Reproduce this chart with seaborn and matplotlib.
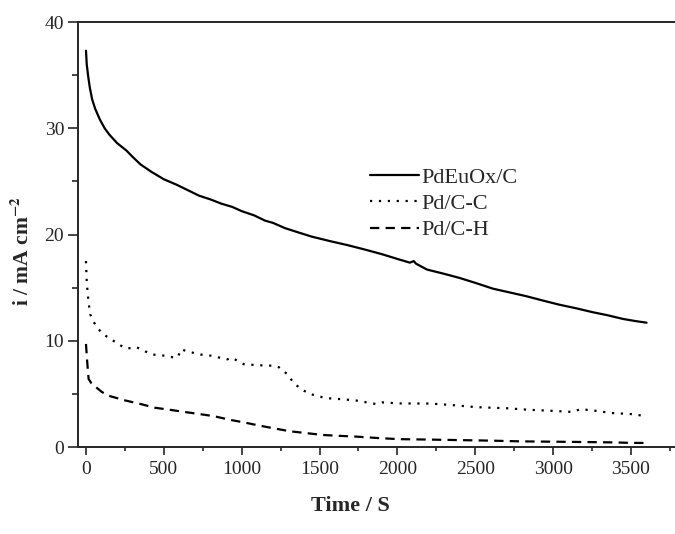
import numpy as np
import pandas as pd
import matplotlib
matplotlib.use("Agg")
import matplotlib.pyplot as plt
import seaborn as sns

# ---- data ----
t_pdeu = [0, 5, 15, 25, 40, 60, 90, 120, 150, 200, 260, 300, 350, 420, 500, 580, 650, 727, 800,
          870, 939, 1000, 1080, 1151, 1200, 1278, 1363, 1450, 1575, 1680, 1787, 1900, 2000, 2080,
          2105, 2120, 2190, 2300, 2402, 2500, 2614, 2720, 2826, 2930, 3038, 3150, 3250, 3350,
          3450, 3530, 3600]
i_pdeu = [37.3, 36.0, 34.8, 33.8, 32.7, 31.8, 30.8, 30.0, 29.4, 28.6, 27.9, 27.3, 26.6, 25.9,
          25.2, 24.7, 24.2, 23.65, 23.3, 22.9, 22.6, 22.2, 21.8, 21.3, 21.1, 20.6, 20.2, 19.8,
          19.35, 19.0, 18.6, 18.15, 17.7, 17.35, 17.5, 17.25, 16.7, 16.3, 15.9, 15.45, 14.9,
          14.55, 14.2, 13.8, 13.4, 13.05, 12.7, 12.4, 12.05, 11.85, 11.7]

t_pdcc = [0, 5, 15, 27, 48, 80, 112, 176, 250, 282, 324, 380, 430, 500, 557, 590, 611, 650, 738,
          800, 907, 937, 1013, 1100, 1204, 1240, 1289, 1342, 1400, 1437, 1500, 1543, 1640, 1734,
          1861, 1900, 2020, 2211, 2350, 2508, 2700, 2847, 3000, 3123, 3176, 3250, 3377, 3500, 3600]
i_pdcc = [17.5, 15.5, 13.8, 12.5, 11.8, 11.1, 10.6, 10.0, 9.3, 9.3, 9.4, 9.0, 8.7, 8.6, 8.45,
          8.45, 9.2, 9.0, 8.7, 8.6, 8.25, 8.4, 7.8, 7.7, 7.65, 7.5, 6.9, 5.9, 5.3, 5.0, 4.75,
          4.6, 4.5, 4.38, 4.05, 4.2, 4.1, 4.09, 3.95, 3.75, 3.65, 3.5, 3.4, 3.3, 3.56, 3.45, 3.2,
          3.1, 2.9]

t_pdch = [0, 8, 17, 35, 59, 100, 144, 200, 250, 350, 441, 540, 632, 730, 822, 928, 1020, 1119,
          1210, 1310, 1420, 1522, 1630, 1734, 1870, 2010, 2200, 2400, 2600, 2795, 3000, 3200,
          3400, 3494, 3600]
i_pdch = [9.7, 8.0, 6.4, 6.0, 5.7, 5.2, 4.83, 4.6, 4.39, 4.05, 3.7, 3.5, 3.3, 3.1, 2.9, 2.55,
          2.3, 2.0, 1.75, 1.48, 1.3, 1.13, 1.05, 0.98, 0.85, 0.74, 0.7, 0.65, 0.6, 0.53, 0.5,
          0.47, 0.43, 0.39, 0.38]

labels = ["PdEuOx/C", "Pd/C-C", "Pd/C-H"]
x_ticks = [0, 500, 1000, 1500, 2000, 2500, 3000, 3500]
y_ticks = [0, 10, 20, 30, 40]

# ---- style ----
sns.set_style("ticks")
plt.rcParams["font.family"] = ["Liberation Serif", "DejaVu Serif"]
plt.rcParams["mathtext.fontset"] = "stix"

fig = plt.figure(figsize=(6.75, 5.34), dpi=100)
ax = fig.add_axes([0.1156, 0.1629, 0.8884, 0.7959])

styles = ["-", (0, (1, 3)), (0, (4.2, 2.8))]
series = [(t_pdeu, i_pdeu), (t_pdcc, i_pdcc), (t_pdch, i_pdch)]
for (t, i), lab, ls in zip(series, labels, styles):
    df = pd.DataFrame({"t": t, "i": i})
    sns.lineplot(data=df, x="t", y="i", ax=ax, color="black", linewidth=1.6,
                 linestyle=ls, label=lab, sort=False)

ax.set_xlim(-51, 3800)
ax.set_ylim(0, 40)
ax.set_xticks(x_ticks)
ax.set_yticks(y_ticks)
ax.set_xticks(np.arange(250, 3800, 500), minor=True)
ax.set_yticks([5, 15, 25, 35], minor=True)

for s in ["top", "left", "bottom"]:
    ax.spines[s].set_linewidth(1.4)
ax.spines["right"].set_visible(False)

ax.tick_params(axis="x", which="major", direction="out", length=6, width=1.2,
               labelsize=14, pad=4)
ax.tick_params(axis="x", which="minor", direction="out", length=3, width=1.2)
ax.tick_params(axis="y", which="major", direction="out", length=7, width=1.2,
               labelsize=14, pad=3)
ax.tick_params(axis="y", which="minor", direction="out", length=4, width=1.2)

ax.set_xlabel("Time / S", fontsize=16, fontweight="bold")
ax.set_ylabel(r"i / mA cm$^{\mathbf{-2}}$", fontsize=15.5, fontweight="bold")
ax.xaxis.set_label_coords(0.455, -0.115)
ax.yaxis.set_label_coords(-0.074, 0.462)

leg = ax.legend(loc="center left", bbox_to_anchor=(0.487, 0.572), frameon=False,
                fontsize=16, handlelength=2.2, handletextpad=0.12, labelspacing=0.25,
                borderpad=0, borderaxespad=0)

fig.savefig("out.png", dpi=100)
